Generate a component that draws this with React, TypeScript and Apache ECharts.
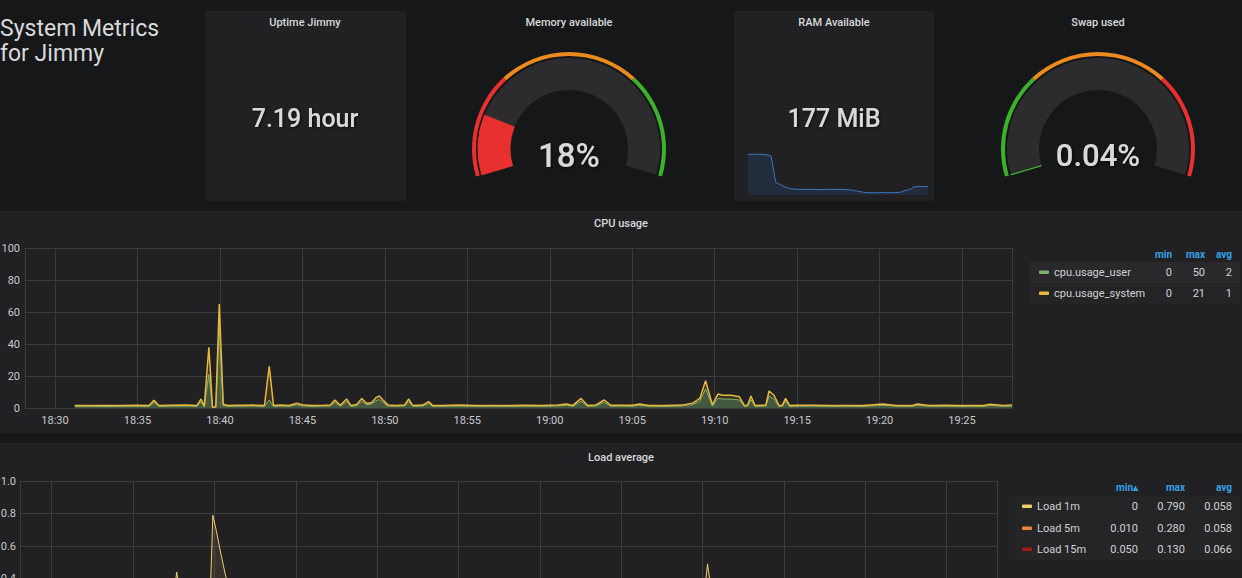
import { useEffect, useRef } from "react";
import * as echarts from "echarts";

// ---------- data ----------
const BASE = new Date(2024, 0, 1, 18, 0, 0).getTime();
const MINUTE = 60000;

const dashboardTitle = "System Metrics\nfor Jimmy";
const uptimeTitle = "Uptime Jimmy";
const uptimeValue = "7.19 hour";
const memoryTitle = "Memory available";
const memoryAvailable = 18;
const memoryThresholds = [30, 70];
const ramTitle = "RAM Available";
const ramValueLabel = "177 MiB";
const swapTitle = "Swap used";
const swapUsed = 0.04;
const swapThresholds = [30, 70];

// RAM sparkline (MiB)
const ramValues = [
  319, 320, 320, 319, 318, 312, 196, 186, 176, 168, 166, 165, 165, 164, 165, 164, 164, 165, 165, 164,
  165, 164, 163, 160, 156, 152, 150, 150, 150, 151, 150, 150, 151, 152, 160, 163, 176, 177, 177, 177,
];

// CPU usage: [minutes after 18:00, user %, system %]
const cpuSamples: [number, number, number][] = [
  [31.2, 1.0, 0.5], [32.0, 1.1, 0.5], [33.0, 0.9, 0.6], [34.0, 1.0, 0.5], [35.0, 1.2, 0.5],
  [35.7, 1.0, 0.6], [36.0, 3.5, 1.3], [36.3, 1.0, 0.5], [37.0, 1.1, 0.6], [38.0, 1.3, 0.6],
  [38.6, 1.0, 0.5], [38.85, 4.0, 1.6], [39.05, 0.8, 0.4], [39.33, 21, 17], [39.55, 0.3, 0.2],
  [39.75, 0.5, 0.3], [39.96, 50, 15], [40.2, 1.5, 0.8], [40.5, 1.0, 0.6], [41.0, 1.2, 0.5],
  [41.5, 1.1, 0.6], [42.0, 1.3, 0.5], [42.7, 1.0, 0.5], [42.99, 5, 21], [43.25, 1.0, 0.5],
  [43.7, 1.2, 0.6], [44.2, 1.1, 0.5], [44.65, 2.0, 1.0], [45.1, 1.2, 0.6], [45.6, 1.0, 0.6],
  [46.3, 1.2, 0.5], [46.7, 1.3, 0.6], [46.97, 3.5, 1.5], [47.3, 1.1, 0.6], [47.68, 4.0, 1.6],
  [47.95, 1.0, 0.5], [48.3, 1.5, 0.7], [48.6, 4.3, 1.7], [48.9, 2.0, 0.8], [49.2, 2.5, 1.0],
  [49.45, 4.5, 1.8], [49.66, 5.3, 2.2], [49.9, 3.5, 1.3], [50.2, 1.2, 0.6], [50.7, 1.1, 0.5],
  [51.2, 1.3, 0.6], [51.45, 4.0, 1.6], [51.7, 1.0, 0.5], [52.3, 1.2, 0.6], [52.65, 2.8, 1.2],
  [52.9, 1.0, 0.5], [53.5, 1.1, 0.5], [54.5, 1.2, 0.6], [55.5, 1.0, 0.5], [56.5, 1.1, 0.5],
  [57.5, 1.0, 0.6], [58.5, 1.2, 0.5], [59.5, 1.0, 0.5], [60.5, 1.3, 0.6], [61.0, 1.7, 0.8],
  [61.4, 1.1, 0.5], [61.9, 4.2, 1.8], [62.3, 1.0, 0.5], [62.8, 1.3, 0.6], [63.3, 3.5, 1.5],
  [63.7, 1.1, 0.6], [64.3, 1.2, 0.5], [65.0, 1.1, 0.6], [65.45, 1.7, 0.8], [66.0, 1.1, 0.5],
  [67.0, 1.0, 0.5], [68.0, 1.2, 0.6], [68.7, 2.2, 1.0], [69.1, 4.2, 1.8], [69.45, 12, 5],
  [69.86, 1.3, 0.7], [70.2, 6.0, 2.7], [70.5, 5.6, 2.4], [71.0, 5.5, 2.5], [71.5, 5.0, 2.0],
  [71.8, 1.0, 0.5], [72.0, 1.2, 0.6], [72.2, 5.2, 2.3], [72.45, 1.0, 0.5], [72.8, 1.1, 0.6],
  [73.1, 1.2, 0.6], [73.3, 7.5, 3.1], [73.6, 5.6, 2.4], [73.9, 1.0, 0.5], [74.1, 1.1, 0.5],
  [74.3, 4.2, 1.8], [74.55, 1.0, 0.5], [75.0, 1.1, 0.6], [76.0, 1.2, 0.5], [77.0, 1.0, 0.6],
  [78.0, 1.1, 0.5], [79.0, 1.0, 0.5], [80.2, 1.7, 0.8], [81.0, 1.1, 0.5], [82.0, 1.0, 0.6],
  [82.3, 1.7, 0.8], [83.0, 1.1, 0.5], [84.0, 1.2, 0.5], [84.7, 1.0, 0.6], [85.5, 1.1, 0.5],
  [86.3, 1.0, 0.6], [86.7, 1.6, 0.8], [87.5, 1.1, 0.5], [88.03, 1.2, 0.6],
];
const cpuSeriesNames = ["cpu.usage_user", "cpu.usage_system"];
const cpuLegendMin = ["0", "0"];
const cpuLegendMax = ["50", "21"];
const cpuLegendAvg = ["2", "1"];
const cpuYTicks = { min: 0, max: 100, step: 20 };

// Load average
const loadTimes = [
  31.2, 33, 35, 36.5, 37.4, 37.68, 37.9, 38.5, 39.3, 39.75, 39.9, 40.1, 40.4, 40.7, 41.0, 41.5, 42.2,
  43.0, 43.5, 44.5, 46, 48, 49.7, 51, 53, 56, 60, 62, 64, 66, 68, 69.3, 70.1, 70.3, 70.5, 71.0, 72.0,
  73.5, 74.5, 76, 80, 84, 88.03,
];
const load1m = [
  0.05, 0.03, 0.02, 0.06, 0.2, 0.44, 0.3, 0.22, 0.3, 0.32, 0.79, 0.7, 0.55, 0.41, 0.35, 0.3, 0.22,
  0.3, 0.25, 0.18, 0.12, 0.1, 0.14, 0.09, 0.06, 0.03, 0.02, 0.05, 0.04, 0.02, 0.03, 0.18, 0.3, 0.49,
  0.35, 0.33, 0.28, 0.32, 0.25, 0.15, 0.06, 0.02, 0.0,
];
const load5m = [
  0.05, 0.04, 0.03, 0.04, 0.07, 0.12, 0.11, 0.1, 0.12, 0.13, 0.24, 0.27, 0.28, 0.27, 0.26, 0.25, 0.23,
  0.22, 0.21, 0.19, 0.16, 0.13, 0.12, 0.11, 0.09, 0.07, 0.04, 0.03, 0.03, 0.02, 0.02, 0.05, 0.08, 0.13,
  0.13, 0.14, 0.14, 0.15, 0.14, 0.12, 0.07, 0.03, 0.01,
];
const load15m = [
  0.06, 0.06, 0.05, 0.05, 0.06, 0.07, 0.07, 0.07, 0.08, 0.08, 0.11, 0.12, 0.12, 0.13, 0.13, 0.13, 0.12,
  0.12, 0.12, 0.12, 0.11, 0.1, 0.1, 0.1, 0.09, 0.08, 0.07, 0.06, 0.06, 0.06, 0.05, 0.06, 0.07, 0.08,
  0.08, 0.08, 0.08, 0.09, 0.09, 0.08, 0.07, 0.06, 0.05,
];
const loadSeriesNames = ["Load 1m", "Load 5m", "Load 15m"];
const loadLegendMin = ["0", "0.010", "0.050"];
const loadLegendMax = ["0.790", "0.280", "0.130"];
const loadLegendAvg = ["0.058", "0.058", "0.066"];
const loadYTicks = { min: 0, max: 1, step: 0.2 };

const legendHeaders = ["min", "max", "avg"];
const loadLegendHeaders = ["min\u25B4", "max", "avg"];

// ---------- styles ----------
const FONT = 'Roboto, "Noto Sans", sans-serif';
const TEXT = "#d8d9da";
const AXIS_TEXT = "#c8c9cb";
const GRID_LINE = "#3a3b3f";
const HEADER_BLUE = "#33a2e5";
const PANEL = "#212124";
const PAGE = "#161719";
const RED = "#e8302f";
const ORANGE = "#eb8a1f";
const GREEN = "#3cb22b";
const CPU_COLORS = ["#7eb26d", "#eab839"];
const LOAD_COLORS = ["#f2cc6d", "#ef843c", "#a31c14"];
const TICK_STEP = 5.5 * MINUTE; // resolves to 5-minute ticks on the time scale

const t = (m: number) => BASE + m * MINUTE;

function txt(x: number, y: number, text: string, o: any = {}) {
  return {
    type: "text",
    x,
    y,
    z: 10,
    silent: true,
    style: {
      text,
      fill: o.fill || TEXT,
      fontSize: o.size || 11,
      fontWeight: o.weight || 500,
      fontFamily: FONT,
      align: o.align || "left",
      textAlign: o.align || "left",
      verticalAlign: o.valign || "middle",
      textVerticalAlign: o.valign || "middle",
      lineHeight: o.lineHeight,
      textShadowColor: o.shadow ? "rgba(0,0,0,0.7)" : undefined,
      textShadowBlur: o.shadow ? 3 : undefined,
      textShadowOffsetX: o.shadow ? 1 : undefined,
      textShadowOffsetY: o.shadow ? 1 : undefined,
    },
  };
}

function rect(x: number, y: number, w: number, h: number, fill: string, z = -10) {
  return { type: "rect", z, silent: true, shape: { x, y, width: w, height: h }, style: { fill } };
}

function stops(th: number[], colors: string[]) {
  return [
    [th[0] / 100, colors[0]],
    [th[1] / 100, colors[1]],
    [1, colors[2]],
  ];
}

function gaugePair(center: number[], value: number, thColors: any, valueColor: string, fmt: (v: number) => string, size: number) {
  const common = {
    type: "gauge",
    center,
    startAngle: 196.5,
    endAngle: -16.5,
    min: 0,
    max: 100,
    pointer: { show: false },
    anchor: { show: false },
    axisTick: { show: false },
    splitLine: { show: false },
    axisLabel: { show: false },
    title: { show: false },
    silent: true,
  };
  return [
    {
      ...common,
      radius: 97,
      axisLine: { lineStyle: { width: 4, color: thColors } },
      progress: { show: false },
      detail: { show: false },
      data: [{ value: 0 }],
    },
    {
      ...common,
      radius: 91,
      axisLine: { lineStyle: { width: 32, color: [[1, "#2c2c2f"]] } },
      progress: {
        show: true,
        width: 32,
        itemStyle: { color: valueColor, borderColor: valueColor, borderWidth: 1 },
      },
      detail: {
        show: true,
        offsetCenter: [0, 6],
        formatter: fmt,
        color: TEXT,
        fontSize: size,
        fontWeight: 500,
        fontFamily: FONT,
        textShadowColor: "rgba(0,0,0,0.7)",
        textShadowBlur: 3,
        textShadowOffsetX: 1,
        textShadowOffsetY: 1,
      },
      data: [{ value }],
    },
  ];
}

function legendTable(
  names: string[],
  colors: string[],
  mins: string[],
  maxs: string[],
  avgs: string[],
  headers: string[],
  headerY: number,
  rowY: number[],
  swatchX: number,
  colRight: number[]
) {
  const els: any[] = [];
  headers.forEach((h, i) => els.push(txt(colRight[i], headerY, h, { fill: HEADER_BLUE, align: "right", weight: 700, size: 10 })));
  names.forEach((n, i) => {
    els.push({
      type: "rect",
      z: 10,
      silent: true,
      shape: { x: swatchX, y: rowY[i] - 1.5, width: 10, height: 3.5, r: 1 },
      style: { fill: colors[i] },
    });
    els.push(txt(swatchX + 15, rowY[i], n, { weight: 400, fill: "#d0d1d3" }));
    els.push(txt(colRight[0], rowY[i], mins[i], { weight: 400, align: "right", fill: "#d0d1d3" }));
    els.push(txt(colRight[1], rowY[i], maxs[i], { weight: 400, align: "right", fill: "#d0d1d3" }));
    els.push(txt(colRight[2], rowY[i], avgs[i], { weight: 400, align: "right", fill: "#d0d1d3" }));
  });
  return els;
}

function buildOption() {
  const thColorsMem = stops(memoryThresholds, [RED, ORANGE, GREEN]);
  const thColorsSwap = stops(swapThresholds, [GREEN, ORANGE, RED]);

  const cpuUserData = cpuSamples.map((s) => [t(s[0]), s[1]]);
  const cpuSysData = cpuSamples.map((s) => [t(s[0]), s[2]]);
  const loadData = [load1m, load5m, load15m].map((arr) => arr.map((v, i) => [t(loadTimes[i]), v]));

  const timeAxis = (gridIndex: number, lo: number, hi: number, showLabels: boolean) => ({
    type: "time",
    gridIndex,
    min: t(lo),
    max: t(hi),
    minInterval: TICK_STEP,
    maxInterval: TICK_STEP,
    axisLine: { show: false },
    axisTick: { show: false },
    axisLabel: { show: showLabels, formatter: "{HH}:{mm}", color: AXIS_TEXT, fontSize: 11, margin: 7, fontFamily: FONT },
    splitLine: { show: true, lineStyle: { color: GRID_LINE, width: 1 } },
  });

  const graphics: any[] = [
    rect(205, 11, 201, 190, PANEL),
    rect(734, 11, 200, 190, PANEL),
    rect(0, 211, 1242, 222, PANEL),
    rect(0, 443, 1242, 140, PANEL),
    rect(1030, 262, 210, 21, "#29292c", -5),
    rect(1030, 283, 210, 21, "#242427", -5),
    rect(1015, 496, 225, 64, "#252528", -5),
    txt(0, 16, dashboardTitle, { size: 23, weight: 400, valign: "top", lineHeight: 25 }),
    txt(305, 22, uptimeTitle, { align: "center" }),
    txt(305, 118, uptimeValue, { align: "center", size: 25, shadow: true }),
    txt(569, 22, memoryTitle, { align: "center" }),
    txt(834, 22, ramTitle, { align: "center" }),
    txt(834, 118, ramValueLabel, { align: "center", size: 25, shadow: true }),
    txt(1098, 22, swapTitle, { align: "center" }),
    txt(621, 223, "CPU usage", { align: "center" }),
    txt(621, 457, "Load average", { align: "center" }),
    ...legendTable(cpuSeriesNames, CPU_COLORS, cpuLegendMin, cpuLegendMax, cpuLegendAvg, legendHeaders, 254, [272, 293], 1039, [1172, 1205, 1232]),
    ...legendTable(loadSeriesNames, LOAD_COLORS, loadLegendMin, loadLegendMax, loadLegendAvg, loadLegendHeaders, 487, [506, 528, 549], 1022, [1138, 1185, 1232]),
  ];

  return {
    animation: false,
    backgroundColor: PAGE,
    textStyle: { fontFamily: FONT },
    grid: [
      { left: 25, top: 248, width: 987, height: 160, outerBoundsMode: "none" },
      { left: 20, top: 481, width: 977, height: 162.5, outerBoundsMode: "none" },
      { left: 748, top: 152, width: 180, height: 43, outerBoundsMode: "none" },
    ],
    xAxis: [
      timeAxis(0, 28.18, 88.03, true),
      timeAxis(1, 28.05, 88.09, false),
      { type: "category", gridIndex: 2, show: false, boundaryGap: false, data: ramValues.map((_, i) => i) },
    ],
    yAxis: [
      {
        type: "value",
        gridIndex: 0,
        min: cpuYTicks.min,
        max: cpuYTicks.max,
        interval: cpuYTicks.step,
        axisLine: { show: false },
        axisTick: { show: false },
        axisLabel: { color: AXIS_TEXT, fontSize: 11, margin: 5, fontFamily: FONT },
        splitLine: { lineStyle: { color: GRID_LINE, width: 1 } },
      },
      {
        type: "value",
        gridIndex: 1,
        min: loadYTicks.min,
        max: loadYTicks.max,
        interval: loadYTicks.step,
        axisLine: { show: false },
        axisTick: { show: false },
        axisLabel: {
          color: AXIS_TEXT,
          fontSize: 11,
          margin: 4,
          fontFamily: FONT,
          formatter: (v: number) => (v >= 0.39 ? v.toFixed(1) : ""),
        },
        splitLine: { lineStyle: { color: GRID_LINE, width: 1 } },
      },
      { type: "value", gridIndex: 2, show: false, min: 140, max: 330, splitLine: { show: false } },
    ],
    series: [
      {
        name: cpuSeriesNames[0],
        type: "line",
        xAxisIndex: 0,
        yAxisIndex: 0,
        stack: "cpu",
        showSymbol: false,
        data: cpuUserData,
        lineStyle: { color: CPU_COLORS[0], width: 1 },
        itemStyle: { color: CPU_COLORS[0] },
        areaStyle: { color: "rgba(126,178,109,0.55)" },
        z: 3,
      },
      {
        name: cpuSeriesNames[1],
        type: "line",
        xAxisIndex: 0,
        yAxisIndex: 0,
        stack: "cpu",
        showSymbol: false,
        data: cpuSysData,
        lineStyle: { color: CPU_COLORS[1], width: 1.5 },
        itemStyle: { color: CPU_COLORS[1] },
        areaStyle: { color: "rgba(234,184,57,0.18)" },
        z: 4,
      },
      ...loadData.map((d, i) => ({
        name: loadSeriesNames[i],
        type: "line",
        xAxisIndex: 1,
        yAxisIndex: 1,
        showSymbol: false,
        data: d,
        lineStyle: { color: LOAD_COLORS[i], width: 1 },
        itemStyle: { color: LOAD_COLORS[i] },
        areaStyle: { color: LOAD_COLORS[i], opacity: 0.1 },
        z: 5 - i,
      })),
      {
        type: "line",
        xAxisIndex: 2,
        yAxisIndex: 2,
        showSymbol: false,
        data: ramValues,
        lineStyle: { color: "#3a78c0", width: 1 },
        itemStyle: { color: "#3a78c0" },
        areaStyle: { color: "rgba(50,116,217,0.2)", origin: "start" },
      },
      ...gaugePair([569, 149], memoryAvailable, thColorsMem, RED, (v: number) => `${v}%`, 33),
      ...gaugePair([1098, 149], swapUsed, thColorsSwap, GREEN, (v: number) => `${v.toFixed(2)}%`, 31),
    ],
    graphic: { elements: graphics },
  };
}

export default function App() {
  const ref = useRef<HTMLDivElement>(null);
  useEffect(() => {
    if (!ref.current) return;
    const chart = echarts.init(ref.current, null, { renderer: "svg" });
    chart.setOption(buildOption() as any);
    return () => chart.dispose();
  }, []);
  return (
    <div
      ref={ref}
      style={{ position: "fixed", left: 0, top: 0, width: 1242, height: 578 }}
    />
  );
}
